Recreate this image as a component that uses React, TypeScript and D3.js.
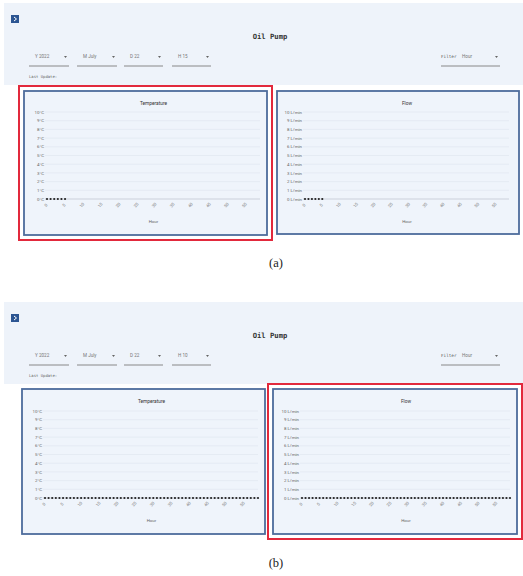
import React, { useEffect, useRef } from 'react';
import * as d3 from 'd3';

// minutes of the selected hour (x categories)
const minutes = [
  0, 1, 2, 3, 4, 5, 6, 7, 8, 9, 10, 11, 12, 13, 14, 15, 16, 17, 18, 19,
  20, 21, 22, 23, 24, 25, 26, 27, 28, 29, 30, 31, 32, 33, 34, 35, 36, 37, 38, 39,
  40, 41, 42, 43, 44, 45, 46, 47, 48, 49, 50, 51, 52, 53, 54, 55, 56, 57, 58, 59,
];
const xTicks = [0, 5, 10, 15, 20, 25, 30, 35, 40, 45, 50, 55];
const yTicks = [0, 1, 2, 3, 4, 5, 6, 7, 8, 9, 10];

// (a) only the first minutes have arrived
const temperatureA = [0, 0, 0, 0, 0, 0];
const flowA = [0, 0, 0, 0, 0, 0];
// (b) full hour
const temperatureB = [
  0, 0, 0, 0, 0, 0, 0, 0, 0, 0, 0, 0, 0, 0, 0, 0, 0, 0, 0, 0,
  0, 0, 0, 0, 0, 0, 0, 0, 0, 0, 0, 0, 0, 0, 0, 0, 0, 0, 0, 0,
  0, 0, 0, 0, 0, 0, 0, 0, 0, 0, 0, 0, 0, 0, 0, 0, 0, 0, 0, 0,
];
const flowB = [
  0, 0, 0, 0, 0, 0, 0, 0, 0, 0, 0, 0, 0, 0, 0, 0, 0, 0, 0, 0,
  0, 0, 0, 0, 0, 0, 0, 0, 0, 0, 0, 0, 0, 0, 0, 0, 0, 0, 0, 0,
  0, 0, 0, 0, 0, 0, 0, 0, 0, 0, 0, 0, 0, 0, 0, 0, 0, 0, 0, 0,
];

const selectsA = ['Y 2022', 'M July', 'D 22', 'H 15'];
const selectsB = ['Y 2022', 'M July', 'D 22', 'H 10'];

const W = 523;
const H = 576;

const MONO = '"DejaVu Sans Mono", monospace';
const SANS = 'Roboto, "Noto Sans", sans-serif';

type ChartCfg = {
  title: string;
  unit: string;
  values: number[];
  box: [number, number, number, number]; // x0,y0,x1,y1
  plot: [number, number, number, number]; // left, top, right, bottom
};

type PanelCfg = {
  dy: number;
  selects: string[];
  charts: ChartCfg[];
  highlight: number;
  caption: string;
  captionY: number;
};

const selectPos = [
  [29, 69],
  [77, 117],
  [124, 163],
  [172, 211],
];

function drawChart(g: d3.Selection<SVGGElement, unknown, null, undefined>, c: ChartCfg) {
  const [bx0, by0, bx1, by1] = c.box;
  const [pl, pt, pr, pb] = c.plot;

  g.append('rect')
    .attr('x', bx0).attr('y', by0)
    .attr('width', bx1 - bx0).attr('height', by1 - by0)
    .attr('fill', '#eff4fb')
    .attr('stroke', '#4d6c9c')
    .attr('stroke-width', 1.8);

  const x = d3.scaleLinear().domain([minutes[0], minutes[minutes.length - 1]]).range([pl, pr]);
  const y = d3.scaleLinear().domain([0, 10]).range([pb, pt]);

  g.append('text')
    .attr('x', (pl + pr) / 2).attr('y', by0 + 14)
    .attr('text-anchor', 'middle')
    .attr('font-family', SANS).attr('font-size', 4.8)
    .attr('fill', '#333')
    .text(c.title);

  // horizontal grid
  g.append('g')
    .selectAll('line')
    .data(yTicks)
    .join('line')
    .attr('x1', pl - 2).attr('x2', pr)
    .attr('y1', d => y(d)).attr('y2', d => y(d))
    .attr('stroke', d => (d === 0 ? '#b4bbc6' : '#dde4ee'))
    .attr('stroke-width', 0.6);

  g.append('g')
    .selectAll('text')
    .data(yTicks)
    .join('text')
    .attr('x', pl - 3).attr('y', d => y(d) + 1.6)
    .attr('text-anchor', 'end')
    .attr('font-family', SANS).attr('font-size', 4.4)
    .attr('fill', '#666')
    .text(d => `${d}${c.unit}`);

  // rotated minute labels
  g.append('g')
    .selectAll('text')
    .data(xTicks)
    .join('text')
    .attr('transform', d => `translate(${x(d)},${pb + 7}) rotate(-50)`)
    .attr('text-anchor', 'middle')
    .attr('font-family', SANS).attr('font-size', 4.2)
    .attr('fill', '#777')
    .text(d => String(d));

  g.append('text')
    .attr('x', (pl + pr) / 2).attr('y', pb + 24)
    .attr('text-anchor', 'middle')
    .attr('font-family', SANS).attr('font-size', 4.4)
    .attr('fill', '#666')
    .text('Hour');

  g.append('g')
    .selectAll('circle')
    .data(c.values)
    .join('circle')
    .attr('cx', (_, i) => x(minutes[i]))
    .attr('cy', d => y(d))
    .attr('r', 1.1)
    .attr('fill', '#222');
}

function drawPanel(svg: d3.Selection<SVGSVGElement, unknown, null, undefined>, p: PanelCfg) {
  const g = svg.append('g').attr('transform', `translate(0,${p.dy})`);

  // header strip
  g.append('rect')
    .attr('x', 4).attr('y', 3).attr('width', 519).attr('height', 82)
    .attr('fill', '#eef3fa');

  g.append('rect')
    .attr('x', 11).attr('y', 15).attr('width', 8).attr('height', 8)
    .attr('fill', '#2c5592');
  g.append('path')
    .attr('d', 'M14,17 L16.5,19 L14,21')
    .attr('fill', 'none').attr('stroke', '#fff').attr('stroke-width', 1);

  g.append('text')
    .attr('x', 270).attr('y', 38.5)
    .attr('text-anchor', 'middle')
    .attr('font-family', MONO).attr('font-weight', 'bold').attr('font-size', 7.2)
    .attr('fill', '#333')
    .text('Oil Pump');

  p.selects.forEach((label, i) => {
    const [a, b] = selectPos[i];
    g.append('text')
      .attr('x', a + 6).attr('y', 58)
      .attr('font-family', SANS).attr('font-size', 4.6)
      .attr('fill', '#777')
      .text(label);
    g.append('path')
      .attr('d', `M${b - 5},56 L${b - 2},56 L${b - 3.5},58 Z`)
      .attr('fill', '#666');
    g.append('line')
      .attr('x1', a).attr('x2', b).attr('y1', 66).attr('y2', 66)
      .attr('stroke', '#888').attr('stroke-width', 1);
  });

  g.append('text')
    .attr('x', 441).attr('y', 58)
    .attr('font-family', MONO).attr('font-size', 4.3)
    .attr('fill', '#555')
    .text('Filter');
  g.append('text')
    .attr('x', 462).attr('y', 58)
    .attr('font-family', SANS).attr('font-size', 4.6)
    .attr('fill', '#777')
    .text('Hour');
  g.append('path')
    .attr('d', 'M495,56 L498,56 L496.5,58 Z')
    .attr('fill', '#666');
  g.append('line')
    .attr('x1', 441).attr('x2', 500).attr('y1', 66).attr('y2', 66)
    .attr('stroke', '#888').attr('stroke-width', 1);

  g.append('text')
    .attr('x', 29).attr('y', 78)
    .attr('font-family', MONO).attr('font-size', 3.9)
    .attr('fill', '#666')
    .text('Last Update:');

  p.charts.forEach((c, i) => {
    drawChart(g, c);
    if (i === p.highlight) {
      const [bx0, by0, bx1, by1] = c.box;
      g.append('rect')
        .attr('x', bx0 - 5).attr('y', by0 - 5)
        .attr('width', bx1 - bx0 + 10).attr('height', by1 - by0 + 10)
        .attr('fill', 'none')
        .attr('stroke', '#e2293c')
        .attr('stroke-width', 2);
    }
  });

  g.append('text')
    .attr('x', 276).attr('y', p.captionY)
    .attr('text-anchor', 'middle')
    .attr('font-family', '"Liberation Serif", "Times New Roman", serif')
    .attr('font-size', 12.5)
    .attr('fill', '#222')
    .text(p.caption);
}

export default function App() {
  const ref = useRef<SVGSVGElement>(null);

  useEffect(() => {
    if (!ref.current) return;
    const svg = d3.select(ref.current);
    svg.selectAll('*').remove();

    svg.append('rect').attr('width', W).attr('height', H).attr('fill', '#fff');

    drawPanel(svg, {
      dy: 0,
      selects: selectsA,
      highlight: 0,
      caption: '(a)',
      captionY: 267,
      charts: [
        { title: 'Temperature', unit: '°C', values: temperatureA, box: [24, 91, 267, 235], plot: [47, 112, 260, 199] },
        { title: 'Flow', unit: ' L/min', values: flowA, box: [277, 91, 519, 234], plot: [305, 112, 509, 199] },
      ],
    });

    drawPanel(svg, {
      dy: 299,
      selects: selectsB,
      highlight: 1,
      caption: '(b)',
      captionY: 268,
      charts: [
        { title: 'Temperature', unit: '°C', values: temperatureB, box: [22, 90, 265, 235], plot: [45, 112, 258, 199] },
        { title: 'Flow', unit: ' L/min', values: flowB, box: [273, 90, 517, 235], plot: [302, 112, 510, 199] },
      ],
    });
  }, []);

  return (
    <div style={{ position: 'absolute', left: 0, top: 0 }}>
      <svg ref={ref} width={W} height={H} style={{ display: 'block' }} />
    </div>
  );
}
